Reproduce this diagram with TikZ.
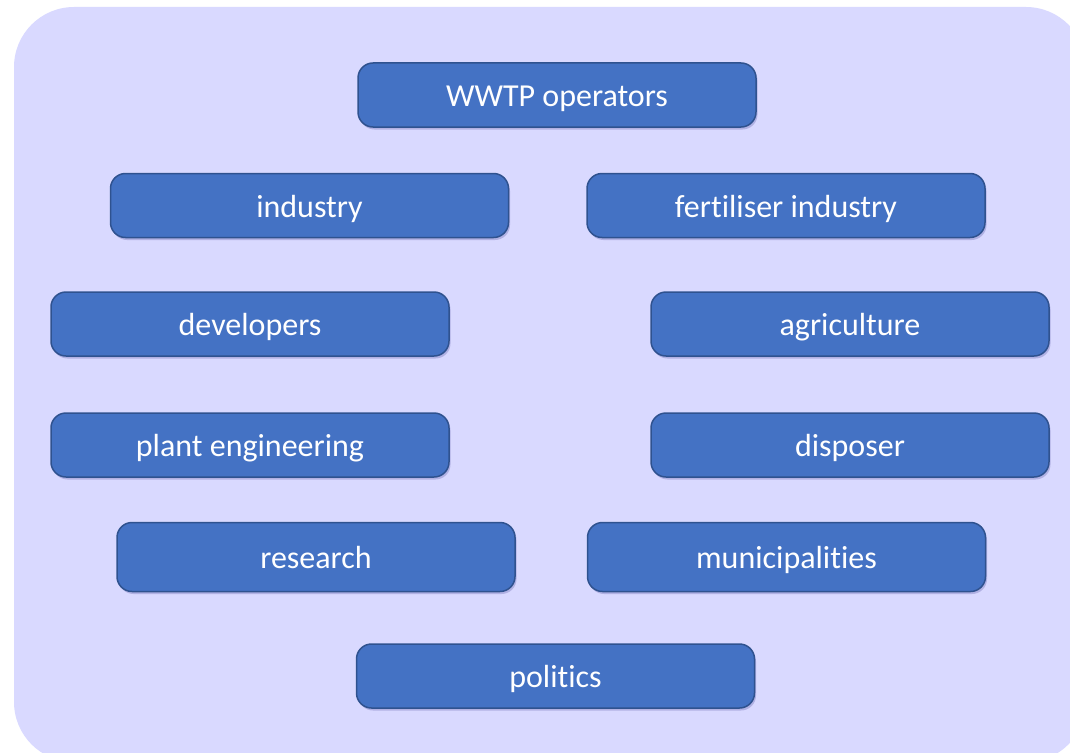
\documentclass[tikz,border=0pt]{standalone}
\usepackage{fontspec}
\setmainfont[Ligatures={NoCommon,NoRare}]{Carlito}
\usetikzlibrary{shadows}

\definecolor{panelfill}{RGB}{217,217,255}
\definecolor{boxfill}{RGB}{68,114,196}
\definecolor{boxline}{RGB}{47,82,143}

\tikzset{
  stakebox/.style={draw=boxline, line width=1.5pt, fill=boxfill, rounded corners=15pt,
    minimum width=398pt, minimum height=64pt, text=white, font=\fontsize{32}{36}\selectfont,
    text height=23pt, text depth=0pt,
    drop shadow={shadow xshift=1.5pt, shadow yshift=-2.5pt, opacity=0.18, fill=blue!40!black}},
  tallbox/.style={stakebox, minimum height=69pt}
}

\begin{document}
\begin{tikzpicture}[x=1pt, y=-1pt]
        \useasboundingbox (0,0) rectangle (1070,752);
        \clip (0,0) rectangle (1070,752);
        % Background panel
        \fill[panelfill, rounded corners=60pt] (14,7) rectangle (1086,762);
        % Define the nodes
        \node[stakebox] (operators)    at (557,95)    {WWTP operators};
        \node[stakebox] (industry)     at (309.5,205.5) {industry};
        \node[stakebox] (fertiliser)   at (786,205.5) {fertiliser industry};
        \node[stakebox] (developers)   at (250,324)   {developers};
        \node[stakebox] (agriculture)  at (850,324)   {agriculture};
        \node[stakebox] (engineering)  at (250,445)   {plant engineering};
        \node[stakebox] (disposer)     at (850,445)   {disposer};
        \node[tallbox]  (research)     at (316,557)   {research};
        \node[tallbox]  (municipal)    at (786.5,557) {municipalities};
        \node[stakebox] (politics)     at (555.5,676) {politics};
    \end{tikzpicture}
\end{document}
